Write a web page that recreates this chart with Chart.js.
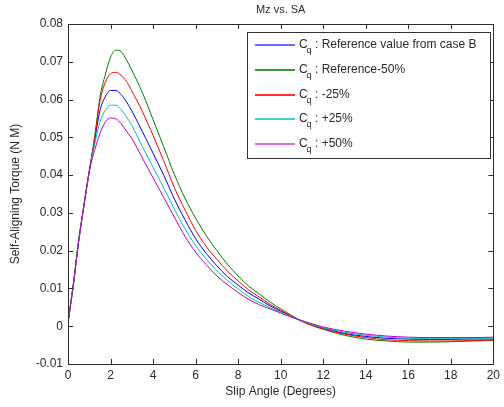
<!DOCTYPE html>
<html>
<head>
<meta charset="utf-8">
<script src="https://cdn.jsdelivr.net/npm/chart.js@4/dist/chart.umd.min.js"></script>
<style>
  html, body { margin: 0; padding: 0; background: #fff; }
  #wrap { width: 504px; height: 407px; }
</style>
</head>
<body>
<div id="wrap"><canvas id="chart" width="504" height="407"></canvas></div>
<script>
// === Data ===
const slipAngle = [0, 0.25, 0.5, 0.75, 1, 1.25, 1.5, 1.75, 2, 2.25, 2.5, 2.75, 3, 3.5, 4, 4.5, 5, 5.5, 6, 6.5, 7, 7.5, 8, 8.5, 9, 9.5, 10, 10.5, 11, 11.5, 12, 13, 14, 15, 16, 17, 18, 19, 20];

const mzRef = [0.001, 0.011, 0.0225, 0.032, 0.041, 0.049, 0.057, 0.0607, 0.0624, 0.0624, 0.0613, 0.0594, 0.0570, 0.0515, 0.0458, 0.0400, 0.0337, 0.0282, 0.0232, 0.0193, 0.0160, 0.0131, 0.0109, 0.0088, 0.0071, 0.0054, 0.0040, 0.0026, 0.0013, 0.0003, -0.0005, -0.0019, -0.0027, -0.0032, -0.0034, -0.0035, -0.0035, -0.0034, -0.0034];
const mzMinus50 = [0.001, 0.011, 0.0225, 0.032, 0.041, 0.050, 0.0605, 0.0665, 0.0712, 0.0731, 0.0727, 0.0705, 0.0678, 0.0618, 0.0547, 0.0475, 0.0402, 0.0339, 0.0286, 0.0240, 0.0200, 0.0164, 0.0133, 0.0106, 0.0085, 0.0064, 0.0046, 0.0029, 0.0013, 0.0001, -0.0008, -0.0024, -0.0034, -0.0039, -0.0042, -0.0042, -0.0041, -0.0039, -0.0037];
const mzMinus25 = [0.001, 0.011, 0.0225, 0.032, 0.041, 0.0495, 0.0595, 0.0645, 0.0668, 0.0672, 0.0664, 0.0648, 0.0623, 0.0568, 0.0505, 0.0438, 0.0367, 0.0308, 0.0254, 0.0211, 0.0177, 0.0146, 0.0120, 0.0096, 0.0077, 0.0058, 0.0042, 0.0027, 0.0013, 0.0002, -0.0007, -0.0021, -0.0030, -0.0036, -0.0038, -0.0039, -0.0039, -0.0038, -0.0037];
const mzPlus25 = [0.001, 0.011, 0.0225, 0.032, 0.041, 0.048, 0.054, 0.0571, 0.0585, 0.0585, 0.0573, 0.0554, 0.0532, 0.0475, 0.0421, 0.0366, 0.0310, 0.0258, 0.0214, 0.0178, 0.0147, 0.0121, 0.0099, 0.0078, 0.0063, 0.0049, 0.0037, 0.0025, 0.0014, 0.0004, -0.0004, -0.0016, -0.0024, -0.0029, -0.0032, -0.0033, -0.0033, -0.0033, -0.0032];
const mzPlus50 = [0.001, 0.011, 0.0225, 0.032, 0.041, 0.0465, 0.051, 0.054, 0.0551, 0.0549, 0.0536, 0.0516, 0.0497, 0.0445, 0.0393, 0.0341, 0.0289, 0.0238, 0.0196, 0.0163, 0.0133, 0.0110, 0.0089, 0.0071, 0.0057, 0.0046, 0.0035, 0.0024, 0.0015, 0.0006, -0.0002, -0.0013, -0.0021, -0.0026, -0.0029, -0.0030, -0.0030, -0.0030, -0.0029];

const seriesLabels = ["Reference value from case B", "Reference-50%", "-25%", "+25%", "+50%"];
const seriesColors = ["#0000ff", "#008000", "#ff0000", "#00bfbf", "#bf00bf"];
const legendColors = ["#6a6aff", "#3c963c", "#ff3030", "#3cd2d2", "#dc6edc"];
const xTicks = [0, 2, 4, 6, 8, 10, 12, 14, 16, 18, 20];
const yTicks = [-0.01, 0, 0.01, 0.02, 0.03, 0.04, 0.05, 0.06, 0.07, 0.08];

const FONT = "Arial, 'Liberation Sans', Helvetica, sans-serif";
const INK = "#2b2b2b";

const toPoints = (ys) => slipAngle.map((x, i) => ({ x, y: ys[i] }));
const allSeries = [mzRef, mzMinus50, mzMinus25, mzPlus25, mzPlus50];

// MATLAB-like frame with inward ticks, title and the legend box
const matlabFrame = {
  id: "matlabFrame",
  afterDraw(chart) {
    const { ctx, chartArea: a, scales } = chart;
    ctx.save();
    ctx.strokeStyle = INK;
    ctx.lineWidth = 1;
    ctx.strokeRect(Math.round(a.left) + 0.5, Math.round(a.top) + 0.5,
      Math.round(a.right - a.left), Math.round(a.bottom - a.top));
    ctx.beginPath();
    xTicks.forEach((v) => {
      const px = Math.round(scales.x.getPixelForValue(v)) + 0.5;
      ctx.moveTo(px, a.bottom); ctx.lineTo(px, a.bottom - 5);
      ctx.moveTo(px, a.top); ctx.lineTo(px, a.top + 5);
    });
    yTicks.forEach((v) => {
      const py = Math.round(scales.y.getPixelForValue(v)) + 0.5;
      ctx.moveTo(a.left, py); ctx.lineTo(a.left + 5, py);
      ctx.moveTo(a.right, py); ctx.lineTo(a.right - 5, py);
    });
    ctx.stroke();

    // title
    ctx.fillStyle = INK;
    ctx.font = "11px " + FONT;
    ctx.textAlign = "center";
    ctx.textBaseline = "middle";
    ctx.fillText("Mz vs. SA", (a.left + a.right) / 2, 10);

    // legend
    const box = { x: 247.5, y: 32.5, w: 243, h: 126 };
    ctx.fillStyle = "#fff";
    ctx.fillRect(box.x, box.y, box.w, box.h);
    ctx.strokeStyle = "#333";
    ctx.lineWidth = 1;
    ctx.strokeRect(box.x, box.y, box.w, box.h);
    seriesLabels.forEach((label, i) => {
      const y = Math.round(45 + i * 24.8);
      ctx.fillStyle = legendColors[i];
      ctx.fillRect(255, y - 1, 40, 2);
      ctx.fillStyle = INK;
      ctx.textAlign = "left";
      ctx.textBaseline = "middle";
      ctx.font = "12px " + FONT;
      ctx.fillText("C", 299, y);
      ctx.font = "9px " + FONT;
      ctx.fillText("q", 306.5, y + 6);
      ctx.font = "12px " + FONT;
      ctx.fillText(": " + label, 315, y);
    });
    ctx.restore();
  },
};

new Chart(document.getElementById("chart"), {
  type: "line",
  data: {
    datasets: allSeries.map((ys, i) => ({
      label: seriesLabels[i],
      data: toPoints(ys),
      borderColor: seriesColors[i],
      borderWidth: 1,
      pointRadius: 0,
      cubicInterpolationMode: "monotone",
      order: allSeries.length - i,
    })),
  },
  options: {
    responsive: false,
    animation: false,
    layout: { padding: { top: 24, right: 10, left: 0, bottom: 0 } },
    plugins: { legend: { display: false }, tooltip: { enabled: false } },
    scales: {
      x: {
        type: "linear",
        min: 0,
        max: 20,
        afterFit: (s) => { s.height = 43; },
        afterBuildTicks: (s) => { s.ticks = xTicks.map((v) => ({ value: v })); },
        grid: { display: false, drawTicks: false },
        border: { display: false },
        ticks: { color: INK, font: { family: FONT, size: 12 }, padding: 4, callback: (v) => String(v), maxRotation: 0 },
        title: { display: true, text: "Slip Angle (Degrees)", color: INK, font: { family: FONT, size: 12 }, padding: { top: 0, bottom: 8 } },
      },
      y: {
        min: -0.01,
        max: 0.08,
        afterFit: (s) => { s.width = 68; },
        afterBuildTicks: (s) => { s.ticks = yTicks.map((v) => ({ value: v })); },
        grid: { display: false, drawTicks: false },
        border: { display: false },
        ticks: { color: INK, font: { family: FONT, size: 12 }, padding: 5, callback: (v) => String(v) },
        title: { display: true, text: "Self-Aligning Torque (N M)", color: INK, font: { family: FONT, size: 12 }, padding: { top: 8, bottom: 0 } },
      },
    },
  },
  plugins: [matlabFrame],
});
</script>
</body>
</html>
